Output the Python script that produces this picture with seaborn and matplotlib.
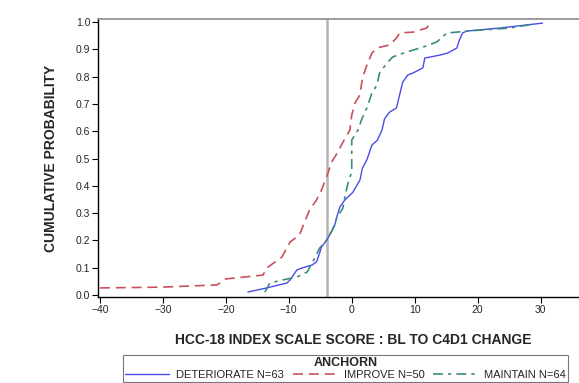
import pandas as pd
import matplotlib.pyplot as plt
import seaborn as sns

# Cumulative distribution curves
det_x = [-16.5, -13.5, -10.3, -9.8, -8.7, -7.9, -6.3, -5.6, -5.1, -4.8, -4.0, -3.5, -2.7, -2.2, -1.9,
         -1.1, 0.2, 1.3, 1.7, 2.4, 3.2, 4.1, 4.8, 5.2, 6.0, 7.1, 7.6, 8.1, 8.9, 9.7, 11.3, 11.6,
         14.0, 15.2, 16.7, 17.1, 17.6, 18.3, 23.5, 30.3]
det_y = [0.011, 0.026, 0.044, 0.055, 0.092, 0.099, 0.11, 0.121, 0.154, 0.176, 0.201, 0.22, 0.256, 0.30,
         0.322, 0.348, 0.377, 0.421, 0.465, 0.495, 0.549, 0.568, 0.604, 0.645, 0.67, 0.685, 0.733,
         0.78, 0.806, 0.813, 0.832, 0.868, 0.879, 0.886, 0.905, 0.934, 0.96, 0.967, 0.978, 0.996]

imp_x = [-40.0, -30.0, -21.4, -20.0, -14.1, -13.5, -11.1, -9.8, -8.3, -7.5, -6.7, -5.6, -4.8, -4.0,
         -3.2, -2.2, -1.4, -0.3, 0.0, 0.5, 1.3, 1.7, 2.4, 3.2, 4.0, 6.0, 7.1, 7.6, 9.7, 11.9, 12.4]
imp_y = [0.026, 0.029, 0.037, 0.059, 0.073, 0.099, 0.139, 0.194, 0.22, 0.267, 0.311, 0.348, 0.385,
         0.432, 0.487, 0.524, 0.56, 0.604, 0.659, 0.703, 0.733, 0.795, 0.842, 0.886, 0.905, 0.916,
         0.941, 0.96, 0.963, 0.978, 0.996]

mnt_x = [-13.8, -13.0, -11.0, -8.7, -7.1, -6.2, -5.1, -4.0, -3.0, -2.4, -1.4, -1.1, -0.6, 0.0, 0.0,
         1.0, 1.6, 2.4, 3.2, 4.0, 4.4, 5.6, 6.5, 8.7, 11.3, 13.5, 15.1, 16.7, 18.3, 25.1, 29.0]
mnt_y = [0.011, 0.044, 0.055, 0.066, 0.084, 0.121, 0.172, 0.201, 0.242, 0.282, 0.319, 0.359, 0.41,
         0.451, 0.568, 0.604, 0.645, 0.685, 0.74, 0.769, 0.813, 0.85, 0.872, 0.89, 0.908, 0.927,
         0.96, 0.963, 0.967, 0.978, 0.993]

ref_line = -4.0
x_ticks = [-40, -30, -20, -10, 0, 10, 20, 30]
y_ticks = [0.0, 0.1, 0.2, 0.3, 0.4, 0.5, 0.6, 0.7, 0.8, 0.9, 1.0]

sns.set_style('white')
plt.rcParams['font.family'] = ['Liberation Sans', 'DejaVu Sans']

fig = plt.figure(figsize=(5.79, 3.83), dpi=100)
# right edge of the axes runs past the figure, like the cropped original
ax = fig.add_axes([0.1693, 0.2245, 0.9275, 0.7258])

ax.axvline(ref_line, color='#b4b4b4', linewidth=1.8, zorder=1)

sns.lineplot(x=det_x, y=det_y, ax=ax, sort=False, estimator=None, color='#4b4bea',
             linewidth=1.0, label='DETERIORATE N=63')
sns.lineplot(x=imp_x, y=imp_y, ax=ax, sort=False, estimator=None, color='#c9505c',
             linewidth=1.2, dashes=(6, 3.5), label='IMPROVE N=50')
sns.lineplot(x=mnt_x, y=mnt_y, ax=ax, sort=False, estimator=None, color='#3a8c80',
             linewidth=1.2, dashes=(6, 3, 2, 3), label='MAINTAIN N=64')

ax.set_xlim(-40.3, 45)
ax.set_ylim(-0.0073, 1.011)
ax.set_xticks(x_ticks)
ax.set_yticks(y_ticks)
ax.set_yticklabels([f'{v:.1f}' for v in y_ticks])
ax.tick_params(axis='both', direction='out', length=4, width=0.8, labelsize=7.5,
               color='black', pad=1.5, left=True, bottom=True)

for side in ['left', 'bottom']:
    ax.spines[side].set_color('black')
    ax.spines[side].set_linewidth(1.0)
ax.spines['top'].set_color('#8a8a8a')
ax.spines['top'].set_linewidth(1.2)
ax.spines['right'].set_visible(False)

ax.set_xlabel('HCC-18 INDEX SCALE SCORE : BL TO C4D1 CHANGE', fontsize=10, fontweight='bold')
ax.set_ylabel('CUMULATIVE PROBABILITY', fontsize=10, fontweight='bold')
ax.xaxis.set_label_coords(0.475, -0.13)
ax.yaxis.set_label_coords(-0.075, 0.5)

handles, labels = ax.get_legend_handles_labels()
ax.get_legend().remove()
leg = fig.legend(handles, labels, title='ANCHORN', ncol=3, loc='upper left',
                 bbox_to_anchor=(123 / 579, 1 - 355 / 383), fontsize=8,
                 title_fontproperties={'weight': 'bold', 'size': 9},
                 frameon=True, fancybox=False, edgecolor='#555555',
                 handlelength=4.0, columnspacing=0.8, borderpad=0.15,
                 handletextpad=0.6, borderaxespad=0, labelspacing=0.2)
leg.get_frame().set_linewidth(0.8)
leg._legend_box.sep = 1

plt.savefig('out.png', dpi=100)
